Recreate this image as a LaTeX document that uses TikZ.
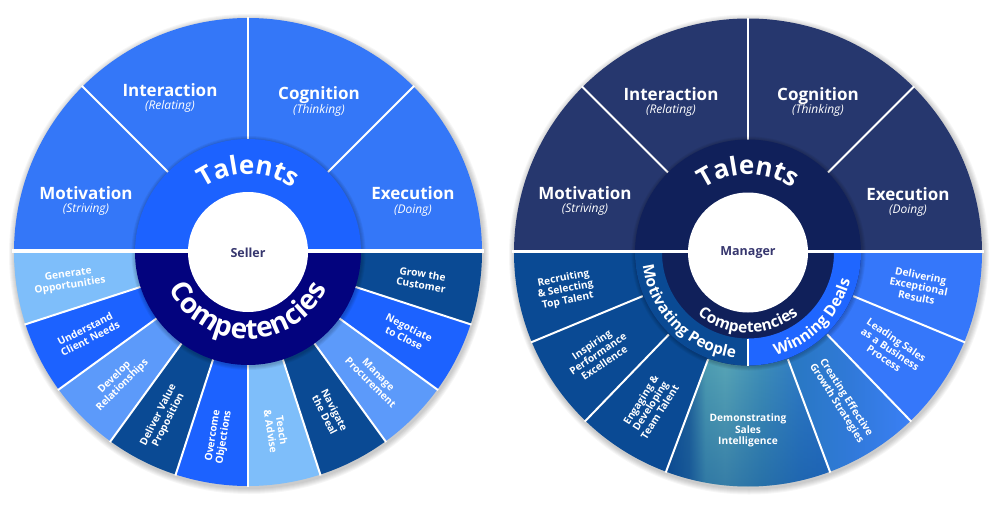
\documentclass[tikz,border=0pt]{standalone}
\usepackage{fontspec}
\setmainfont{Open Sans}
\usetikzlibrary{decorations.text,fadings}
\definecolor{sUpper}{HTML}{3477F8}
\definecolor{sRing}{HTML}{1C62FF}
\definecolor{sComp}{HTML}{03037E}
\definecolor{cLight}{HTML}{7EBEFA}
\definecolor{cMed}{HTML}{5C9AFA}
\definecolor{cBright}{HTML}{1C62FF}
\definecolor{cDark}{HTML}{0A4A94}
\definecolor{mUpper}{HTML}{26376E}
\definecolor{mRing}{HTML}{10205A}
\definecolor{mRight}{HTML}{3577FA}
\definecolor{mWin}{HTML}{1F66FF}
\definecolor{centertxt}{HTML}{36366E}
\definecolor{dA}{HTML}{0C4A90}
\definecolor{dB}{HTML}{22639A}
\definecolor{dC}{HTML}{4E9DB2}
\definecolor{dD}{HTML}{58A5B6}
\definecolor{dE}{HTML}{3F8FB8}
\definecolor{dF}{HTML}{2F7BC6}
\definecolor{dG}{HTML}{2A74CC}
\definecolor{gA}{HTML}{2878C0}
\definecolor{gB}{HTML}{3079D8}
\definecolor{gC}{HTML}{3A7FF5}
\pgfdeclarehorizontalshading{demoshade}{100bp}{color(0bp)=(dA); color(25bp)=(dA); color(32bp)=(dB); color(37bp)=(dC); color(43bp)=(dD); color(54bp)=(dE); color(66bp)=(dF); color(75bp)=(dG); color(100bp)=(dG)}
\pgfdeclarehorizontalshading{growshade}{100bp}{color(0bp)=(gA); color(25bp)=(gA); color(50bp)=(gB); color(75bp)=(gC); color(100bp)=(gC)}
% annular sector: style, start angle, end angle, inner r, outer r
\newcommand\annsec[5]{\path[#1] (#2:#5pt) arc[start angle=#2,end angle=#3,radius=#5pt] -- (#3:#4pt) arc[start angle=#3,end angle=#2,radius=#4pt] -- cycle;}
\newcommand\wheelshadow{%
  \foreach \k in {1,...,6}{\fill[black,opacity=0.035] (1pt,-2pt) circle[radius={234pt+\k pt}];}}
\newcommand\ringshadow{%
  \foreach \k in {1,...,4}{\fill[black,opacity=0.05] (0.5pt,-1pt) circle[radius={113pt+\k pt}];}}
\begin{document}
\begin{tikzpicture}[
  segtxt/.style={text=white, font=\bfseries\fontsize{10.2}{11.2}\selectfont, align=center, inner sep=0pt},
  toptxt/.style={text=white, font=\bfseries\fontsize{17}{17}\selectfont, inner sep=0pt, anchor=base},
  subtxt/.style={text=white, font=\itshape\fontsize{12}{12}\selectfont, inner sep=0pt, anchor=base},
  divider/.style={white, line width=2pt},
  ctrtxt/.style={text=centertxt, font=\bfseries\fontsize{12.5}{12.5}\selectfont, inner sep=0pt}
]
\useasboundingbox (0,0) rectangle (1000pt,-506pt);
\fill[white] (0,0) rectangle (1000pt,-506pt);

%================ SELLER =================
\begin{scope}[shift={(248pt,-252pt)}]
\wheelshadow
\annsec{fill=sUpper}{0}{180}{1}{234}
\annsec{fill=cLight}{180}{198}{1}{234}
\annsec{fill=cBright}{198}{216}{1}{234}
\annsec{fill=cMed}{216}{234}{1}{234}
\annsec{fill=cDark}{234}{252}{1}{234}
\annsec{fill=cBright}{252}{270}{1}{234}
\annsec{fill=cLight}{270}{288}{1}{234}
\annsec{fill=cDark}{288}{306}{1}{234}
\annsec{fill=cMed}{306}{324}{1}{234}
\annsec{fill=cBright}{324}{342}{1}{234}
\annsec{fill=cDark}{342}{360}{1}{234}
\foreach \a in {45,90,135,198,216,...,342}{\draw[divider] (\a:112pt) -- (\a:235pt);}
\ringshadow
\annsec{fill=sRing}{0}{180}{59}{113}
\annsec{fill=sComp}{180}{360}{59}{113}
\fill[white] (-236pt,-0.5pt) rectangle (236pt,3pt);
\fill[white] (0,0) circle[radius=60pt];
\node[ctrtxt] (seller) at (0pt,-1pt) {Seller};
\path[decorate, decoration={text along path, text align=center,
  text={|\color{white}\bfseries\fontsize{26}{26}\selectfont|Talents}}]
  (170:78pt) arc[start angle=170,end angle=10,radius=78pt];
\path[decorate, decoration={text along path, text align=center,
  text={|\color{white}\bfseries\fontsize{28}{28}\selectfont|Competencies}}]
  (185:87pt) arc[start angle=185,end angle=355,radius=87pt];
\node[toptxt] (smot) at (-162pt,53pt) {Motivation};
\node[subtxt] (smots) at (-162pt,40pt) {(Striving)};
\node[toptxt] (sint) at (-78pt,156pt) {Interaction};
\node[subtxt] (sints) at (-78pt,143pt) {(Relating)};
\node[toptxt] (scog) at (71pt,153pt) {Cognition};
\node[subtxt] (scogs) at (71pt,139pt) {(Thinking)};
\node[toptxt] (sexe) at (165pt,53pt) {Execution};
\node[subtxt] (sexes) at (165pt,39pt) {(Doing)};
\node[segtxt, rotate=9]  (s1) at (189:181pt) {Generate\\Opportunities};
\node[segtxt, rotate=27] (s2) at (207:180pt) {Understand\\Client Needs};
\node[segtxt, rotate=45] (s3) at (225:183pt) {Develop\\Relationships};
\node[segtxt, rotate=63] (s4) at (243:186pt) {Deliver Value\\Proposition};
\node[segtxt, rotate=81] (s5) at (261:187pt) {Overcome\\Objections};
\node[segtxt, rotate=-81] (s6) at (279:181pt) {Teach\\\& Advise};
\node[segtxt, rotate=-63] (s7) at (297:180pt) {Navigate\\the Deal};
\node[segtxt, rotate=-45] (s8) at (315:179pt) {Manage\\Procurement};
\node[segtxt, rotate=-27] (s9) at (333:178pt) {Negotiate\\to Close};
\node[segtxt, rotate=-9] (s10) at (351:176pt) {Grow the\\Customer};
\end{scope}

%================ MANAGER =================
\begin{scope}[shift={(748pt,-252.5pt)}]
\wheelshadow
\annsec{fill=mUpper}{0}{180}{1}{234}
\annsec{fill=cDark}{180}{249.5}{1}{234}
\annsec{shading=demoshade}{249.5}{290.5}{112}{234}
\annsec{fill=cDark, fill opacity=0.45, path fading=north}{249.5}{290.5}{112}{234}
\annsec{shading=growshade}{290.5}{314}{112}{234}
\annsec{fill=mRight}{314}{360}{1}{234}
\foreach \a in {45,90,135}{\draw[divider] (\a:112pt) -- (\a:235pt);}
\foreach \a in {202.5,226,249.5,290.5,314,337.5}{\draw[divider] (\a:114pt) -- (\a:235pt);}
\ringshadow
\fill[mRing] (0,0) circle[radius=113pt];
\annsec{fill=cDark}{180}{270}{86}{113}
\annsec{fill=mWin}{270}{360}{86}{113}
\draw[divider, line width=2.5pt] (270:86pt) -- (270:113pt);
\fill[white] (-236pt,-0.5pt) rectangle (236pt,3pt);
\fill[white] (0,0) circle[radius=60pt];
\node[ctrtxt] (manager) at (0pt,-0.5pt) {Manager};
\path[decorate, decoration={text along path, text align=center,
  text={|\color{white}\bfseries\fontsize{26}{26}\selectfont|Talents}}]
  (170:78pt) arc[start angle=170,end angle=10,radius=78pt];
\path[decorate, decoration={text along path, text align=center,
  text={|\color{white}\bfseries\fontsize{15.5}{15.5}\selectfont|Competencies}}]
  (200:80pt) arc[start angle=200,end angle=340,radius=80pt];
\path[decorate, decoration={text along path, text align=center,
  text={|\color{white}\bfseries\fontsize{15.5}{15.5}\selectfont|Motivating People}}]
  (181:106pt) arc[start angle=181,end angle=269,radius=106pt];
\path[decorate, decoration={text along path, text align=center,
  text={|\color{white}\bfseries\fontsize{15.5}{15.5}\selectfont|Winning Deals}}]
  (271:106pt) arc[start angle=271,end angle=359,radius=106pt];
\node[toptxt] (mmot) at (-163pt,53.5pt) {Motivation};
\node[subtxt] (mmots) at (-163pt,40.5pt) {(Striving)};
\node[toptxt] (mint) at (-77pt,152.5pt) {Interaction};
\node[subtxt] (mints) at (-77pt,139.5pt) {(Relating)};
\node[toptxt] (mcog) at (70pt,152.5pt) {Cognition};
\node[subtxt] (mcogs) at (70pt,139.5pt) {(Thinking)};
\node[toptxt] (mexe) at (160pt,52.5pt) {Execution};
\node[subtxt] (mexes) at (160pt,39.5pt) {(Doing)};
\node[segtxt, rotate=11.25] (m1) at (191.5:186pt) {Recruiting\\\& Selecting\\Top Talent};
\node[segtxt, rotate=34] (m2) at (214:181pt) {Inspiring\\Performance\\Excellence};
\node[segtxt, rotate=57.5] (m3) at (237.5:182pt) {Engaging \&\\Developing\\Team Talent};
\node[segtxt] (m4) at (270:178pt) {Demonstrating\\Sales\\Intelligence};
\node[segtxt, rotate=-57.5] (m5) at (302.2:175pt) {Creating Effective\\Growth Strategies};
\node[segtxt, rotate=-34] (m6) at (325.8:172pt) {Leading Sales\\as a Business\\Process};
\node[segtxt, rotate=-11.25] (m7) at (348.75:174pt) {Delivering\\Exceptional\\Results};
\end{scope}
\end{tikzpicture}
\end{document}
